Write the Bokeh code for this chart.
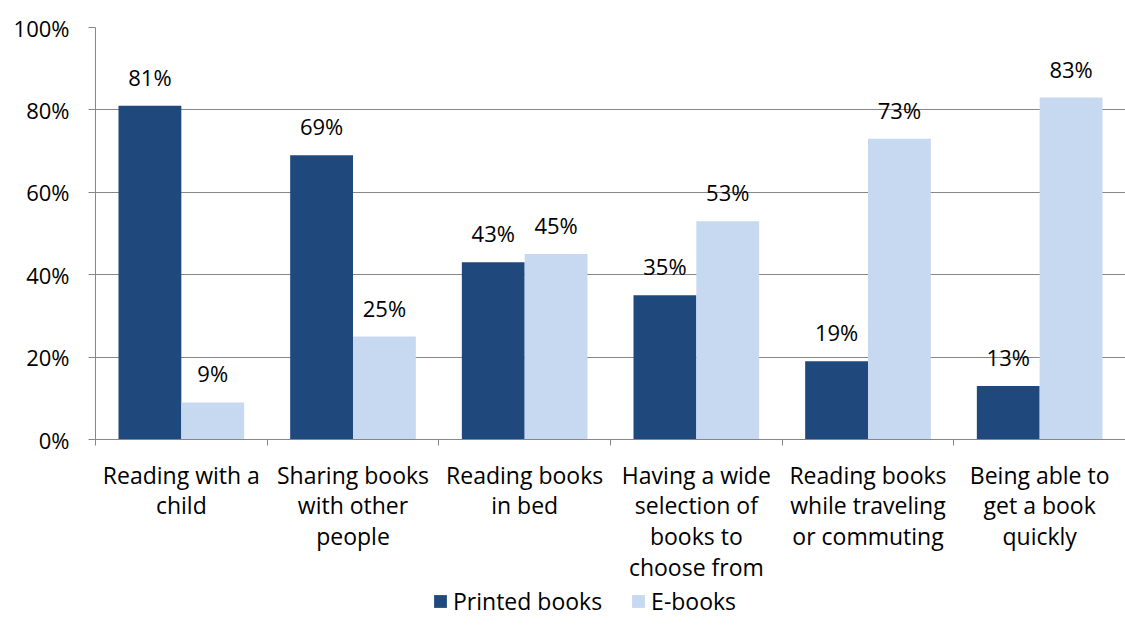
from bokeh.plotting import figure
from bokeh.layouts import column
from bokeh.models import Range1d, FixedTicker, Legend, LegendItem, ColumnDataSource
from bokeh.core.properties import value
from bokeh.embed import file_html
from bokeh.resources import INLINE

categories = ["Reading with a\nchild", "Sharing books\nwith other\npeople", "Reading books\nin bed",
              "Having a wide\nselection of\nbooks to\nchoose from", "Reading books\nwhile traveling\nor commuting",
              "Being able to\nget a book\nquickly"]
series_names = ["Printed books", "E-books"]
printed = [81, 69, 43, 35, 19, 13]
ebooks = [9, 25, 45, 53, 73, 83]
yticks = [0, 20, 40, 60, 80, 100]

FONT = "Open Sans"
FS = "22px"
FS_CAT = "23px"
DARK = "#1F497D"
LIGHT = "#C6D9F1"
GRID = "#878787"

n = len(categories)
centers = [i + 0.5 for i in range(n)]
bw = 0.366

p = figure(width=1125, height=586, output_backend="svg", toolbar_location=None,
           x_range=Range1d(0, n), y_range=Range1d(0, 100))
p.min_border_left = 95
p.min_border_top = 27
p.min_border_right = 0
p.min_border_bottom = 147
p.outline_line_color = None
p.background_fill_color = "white"

src_p = ColumnDataSource(dict(x=[c - bw / 2 for c in centers], top=printed,
                              lab=[f"{v}%" for v in printed]))
src_e = ColumnDataSource(dict(x=[c + bw / 2 for c in centers], top=ebooks,
                              lab=[f"{v}%" for v in ebooks]))
p.vbar(x="x", top="top", width=bw, source=src_p, fill_color=DARK, line_color=None)
p.vbar(x="x", top="top", width=bw, source=src_e, fill_color=LIGHT, line_color=None)

for src in (src_p, src_e):
    p.text(x="x", y="top", text="lab", source=src, text_align="center", text_baseline="bottom",
           y_offset=-14, text_font=value(FONT), text_font_size=FS, text_color="#000000")

# y axis
p.yaxis.ticker = FixedTicker(ticks=yticks)
p.yaxis.major_label_overrides = {t: f"{t}%" for t in yticks}
p.yaxis.major_label_text_font = FONT
p.yaxis.major_label_text_font_size = FS
p.yaxis.major_label_text_color = "#000000"
p.yaxis.axis_line_color = GRID
p.yaxis.major_tick_line_color = GRID
p.yaxis.major_tick_out = 7
p.yaxis.major_tick_in = 0
p.yaxis.minor_tick_line_color = None
p.yaxis.major_label_standoff = 19

p.ygrid.ticker = FixedTicker(ticks=yticks)
p.ygrid.grid_line_color = GRID
p.xgrid.grid_line_color = None

# x axis
p.xaxis.ticker = FixedTicker(ticks=centers, minor_ticks=list(range(n + 1)))
p.xaxis.major_label_overrides = {c: lab for c, lab in zip(centers, categories)}
p.xaxis.major_label_text_font = FONT
p.xaxis.major_label_text_font_size = FS_CAT
p.xaxis.major_label_text_color = "#000000"
p.xaxis.major_label_text_line_height = 0.96
p.xaxis.axis_line_color = GRID
p.xaxis.major_tick_line_color = None
p.xaxis.minor_tick_line_color = GRID
p.xaxis.minor_tick_out = 6
p.xaxis.minor_tick_in = 0
p.xaxis.major_label_standoff = 13

# legend in a strip below the chart (its glyphs sit outside the strip's visible range)
lf = figure(width=1125, height=50, output_backend="svg", toolbar_location=None,
            x_range=Range1d(0, 1), y_range=Range1d(0, 1))
lf.min_border = 0
lf.axis.visible = False
lf.grid.visible = False
lf.outline_line_color = None
lp = lf.vbar(x=[5], top=[1], width=1, fill_color=DARK, line_color=None)
le = lf.vbar(x=[5], top=[1], width=1, fill_color=LIGHT, line_color=None)
legend = Legend(items=[LegendItem(label=series_names[0], renderers=[lp]),
                       LegendItem(label=series_names[1], renderers=[le])],
                orientation="horizontal", location=(337, 19),
                label_text_font=FONT, label_text_font_size=FS_CAT, label_text_color="#000000",
                glyph_width=16, glyph_height=16, spacing=28, label_standoff=5,
                border_line_color=None, background_fill_alpha=0, margin=0, padding=0)
lf.add_layout(legend)

layout = column(p, lf, spacing=0)
open("out.html", "w").write(file_html(layout, INLINE))
